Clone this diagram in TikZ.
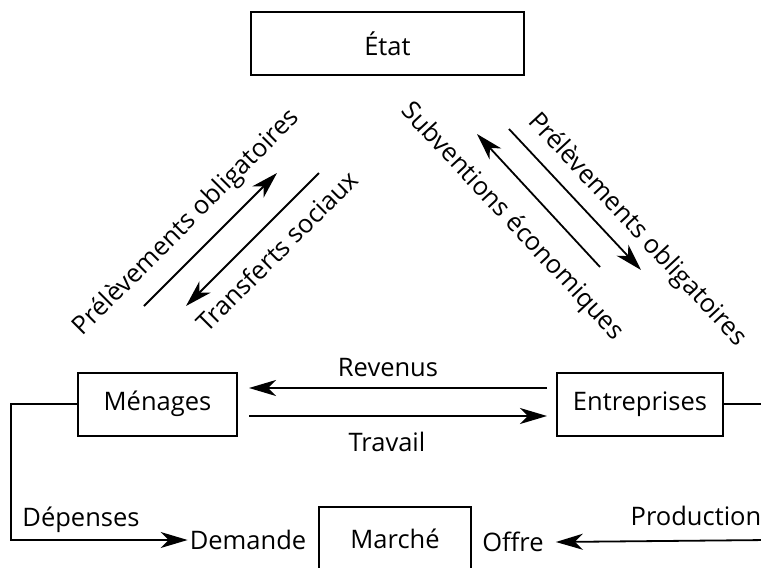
\documentclass[tikz,border=0pt]{standalone}
\usepackage{fontspec}
\setmainfont{Open Sans}
\usetikzlibrary{arrows.meta,positioning}

\begin{document}
\begin{tikzpicture}[x=1pt,y=-1pt]
  \tikzset{
    >={Stealth[length=27pt,width=16pt,inset=8pt]},
    flow/.style={line width=1.8pt, ->},
    box/.style={draw, line width=2pt, minimum height=63pt,
          font=\fontsize{25.5}{30}\selectfont},
    lbl/.style={inner sep=2pt, font=\fontsize{25.5}{30}\selectfont}
  }
  \clip (0,0) rectangle (761,568);

  \node[box, minimum width=273pt] (etat) at (387.5,43.5) {État};
  \node[box, minimum width=159pt] (menages) at (157.5,404) {Ménages};
  \node[box, minimum width=166pt] (entreprises) at (640,404) {Entreprises};
  \node[box, minimum width=152pt] (marche) at (395,538.5) {Marché};

  \node[lbl] (revenus) at (388,368) {Revenus};
  \node[lbl] (travail) at (387,442) {Travail};
  \node[lbl] (depenses) at (81,520) {Dépenses};
  \node[lbl] (demande) at (248,540) {Demande};
  \node[lbl] (offre) at (513,542) {Offre};
  \node[lbl] (production) at (696,516) {Production};

  \node[lbl, rotate=45] (prelevA) at (187,223) {Prélèvements obligatoires};
  \node[lbl, rotate=45] (transferts) at (277,251) {Transferts sociaux};
  \node[lbl, rotate=-47] (subventions) at (512,222) {Subventions économiques};
  \node[lbl, rotate=-47] (prelevB) at (637,230) {Prélèvements obligatoires};

  \coordinate (pa1) at (144,306); \coordinate (pa2) at (277,173);
  \coordinate (ts1) at (319,173); \coordinate (ts2) at (186,306);
  \coordinate (sv1) at (600,267); \coordinate (sv2) at (477,134);
  \coordinate (pb1) at (509,129); \coordinate (pb2) at (641,270);
  \coordinate (lcorner) at (11,540);
  \coordinate (rcorner) at (768,540);

  \draw[flow] (pa1) -- (pa2);
  \draw[flow] (ts1) -- (ts2);
  \draw[flow] (sv1) -- (sv2);
  \draw[flow] (pb1) -- (pb2);

  \draw[flow] ([yshift=16pt,xshift=-9pt]entreprises.west)
          -- ([yshift=16pt,xshift=11pt]menages.east);
  \draw[flow] ([yshift=-12pt,xshift=11pt]menages.east)
          -- ([yshift=-12pt,xshift=-9pt]entreprises.west);

  \draw[flow] (menages.west) -| (lcorner) -- (demande.west);
  \draw[flow] (entreprises.east) -| (rcorner) -- ([xshift=10pt]offre.east);
\end{tikzpicture}
\end{document}
